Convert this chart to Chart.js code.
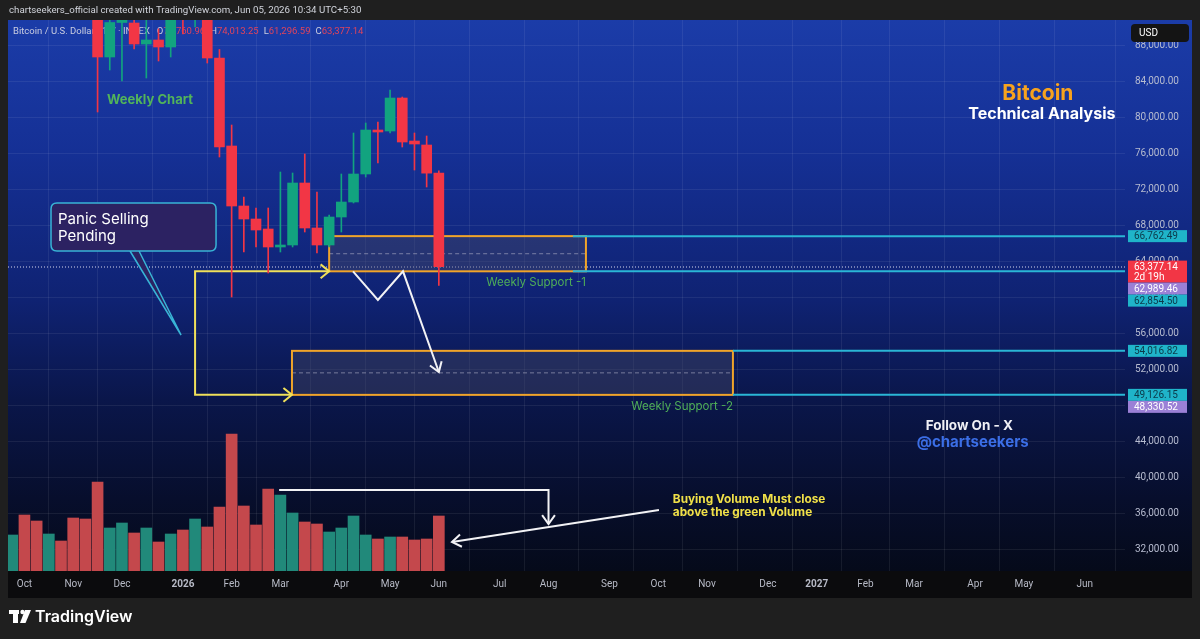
<!DOCTYPE html>
<html><head><meta charset="utf-8">
<script src="https://cdn.jsdelivr.net/npm/chart.js@4.4.1/dist/chart.umd.min.js"></script>
<style>html,body{margin:0;padding:0;background:#1f1f1f;overflow:hidden}</style>
</head><body>
<canvas id="c" width="1200" height="639"></canvas>
<script>
// ---------- DATA ----------
// weekly bars, week index 0 = week of Sep 29 2025 ... 35 = week of Jun 1 2026
const weeks   = [0,1,2,3,4,5,6,7,8,9,10,11,12,13,14,15,16,17,18,19,20,21,22,23,24,25,26,27,28,29,30,31,32,33,34,35];
const opens   = [112200,123500,115200,108600,114500,110500,104700,94300,86667,90500,90444,88111,88556,87778,91300,90900,95100,86556,76778,70111,68667,67556,65556,65778,72667,67667,65778,68889,70556,73667,78556,78444,82111,77333,76889,73760.96];
const highs   = [125500,126200,115900,114800,116400,110700,107500,96600,93100,94200,92700,90800,89800,91500,94800,97900,95500,87500,79111,71111,69889,69889,73889,73778,75889,71667,69100,73667,78222,79333,79444,83000,82222,78222,77889,74013.25];
const lows    = [111900,102000,103500,106700,106300,98900,93900,80556,85222,84000,87556,84333,86222,86667,89222,90000,86000,75556,60000,65000,65556,62667,65000,65556,67222,64889,65556,67222,70444,73333,74889,78222,76667,74111,72222,61296.59];
const closes  = [123500,115200,108600,114500,110500,104700,94300,86667,90500,91200,88111,88556,87778,91300,90900,95100,86556,76667,70111,68667,67444,65556,65778,72667,67667,65778,68889,70556,73667,78556,78333,82111,77222,77000,73760.96,63377.14];
const volumes = [36,56,50,37,30,53,52,89,43,48,38,43,29,37,41,52,44,64,137,65,46,82,76,58,49,47,39,43,55,36,32,34,34,31,32,55];

// time axis ticks (week index) and labels
const tickWeeks  = [1,5,9,14,18,22,27,31,35,40,44,49,53,57,62,66,70,74,79,83,88];
const tickLabels = ['Oct','Nov','Dec','2026','Feb','Mar','Apr','May','Jun','Jul','Aug','Sep','Oct','Nov','Dec','2027','Feb','Mar','Apr','May','Jun'];
const priceTicks = [32000,36000,40000,44000,48000,52000,56000,60000,64000,68000,72000,76000,80000,84000,88000];

// annotation levels
const zone1 = {fromWeek: 26.0, toWeek: 47.07, top: 66762.49, bottom: 62854.50};
const zone2 = {fromWeek: 22.95, toWeek: 59.13, top: 54016.82, bottom: 49126.15};
const levelPrices = [66762.49, 62854.50, 54016.82, 49126.15];
const levelFromWeeks = [46.0, 46.0, 59.13, 59.13];
const bracketWeek = 15.0;
const zigzagWeeks  = [27.96, 30.0, 32.06, 35.0];
const zigzagPrices = [62854.5, 59667, 62854.5, 51667];
const volLineWeeks = [21.9, 44.0, 44.0];
const volLineVals  = [81, 81, 47];
const volArrowWeeks = [53.06, 36.08];
const volArrowVals  = [61, 29];
const calloutWeeks  = [3.18, 16.72];
const calloutPrices = [70444, 65111];
const calloutBaseWeeks = [9.66, 10.4];
const calloutTip = [13.85, 55778];

const tagPrices = [66762.49, 63377.14, 62989.46, 62854.50, 54016.82, 49126.15, 48330.52];
const tagKinds  = ['teal','last','purple','teal','teal','teal','purple'];

// ---------- STYLE ----------
const FONT = 'Inter, "Noto Sans", "DejaVu Sans", sans-serif';
const SMALL = 'Roboto, "Noto Sans", sans-serif';
const RED = '#f23645', GREEN = '#12a37f';
const VRED = '#c4484c', VGREEN = '#21897a';
Chart.defaults.font.family = SMALL;

const isUp = weeks.map((w,i)=> closes[i] >= opens[i]);
const fmt = v => v.toLocaleString('en-US',{minimumFractionDigits:2, maximumFractionDigits:2});

function arrowHead(ctx, x1, y1, x2, y2, len, ang){
  const a = Math.atan2(y2-y1, x2-x1);
  ctx.beginPath();
  ctx.moveTo(x2 - len*Math.cos(a-ang), y2 - len*Math.sin(a-ang));
  ctx.lineTo(x2, y2);
  ctx.lineTo(x2 - len*Math.cos(a+ang), y2 - len*Math.sin(a+ang));
  ctx.stroke();
}
function rrect(ctx, x, y, w, h, r){
  ctx.beginPath();
  ctx.moveTo(x+r, y); ctx.lineTo(x+w-r, y); ctx.quadraticCurveTo(x+w, y, x+w, y+r);
  ctx.lineTo(x+w, y+h-r); ctx.quadraticCurveTo(x+w, y+h, x+w-r, y+h);
  ctx.lineTo(x+r, y+h); ctx.quadraticCurveTo(x, y+h, x, y+h-r);
  ctx.lineTo(x, y+r); ctx.quadraticCurveTo(x, y, x+r, y); ctx.closePath();
}

const annot = {
  id: 'annot',
  beforeDraw(chart){
    const {ctx, chartArea: a} = chart;
    const right = chart.scales.y.right, axBottom = chart.scales.x.bottom;
    ctx.save();
    ctx.fillStyle = '#1f1f1f'; ctx.fillRect(0,0,chart.width,chart.height);
    const g = ctx.createLinearGradient(0, a.top, 0, a.bottom);
    g.addColorStop(0, '#1b3ca8');
    g.addColorStop(0.24, '#153095');
    g.addColorStop(0.51, '#0f2272');
    g.addColorStop(0.69, '#0a164a');
    g.addColorStop(0.87, '#070e2c');
    g.addColorStop(1, '#050a1a');
    ctx.fillStyle = g; ctx.fillRect(a.left, a.top, right - a.left, a.bottom - a.top);
    ctx.fillStyle = '#0b0b0d'; ctx.fillRect(a.left, a.bottom, right - a.left, axBottom - a.bottom);
    // header
    ctx.fillStyle = '#d1d4dc'; ctx.font = '9.7px ' + SMALL; ctx.textBaseline = 'middle';
    ctx.fillText('chartseekers_official created with TradingView.com, Jun 05, 2026 10:34 UTC+5:30', 9, 11);
    // TradingView logo
    ctx.fillStyle = '#ffffff';
    ctx.fillRect(9, 610, 10, 4); ctx.fillRect(13, 610, 5, 13);
    ctx.beginPath(); ctx.arc(22.5, 612, 2.2, 0, Math.PI*2); ctx.fill();
    ctx.beginPath(); ctx.moveTo(25, 610); ctx.lineTo(31, 610); ctx.lineTo(25.5, 623); ctx.lineTo(20, 623); ctx.closePath(); ctx.fill();
    ctx.font = '600 16px ' + FONT; ctx.textBaseline = 'middle';
    ctx.fillText('TradingView', 35, 617);
    ctx.restore();
  },
  beforeDatasetsDraw(chart){
    const {ctx, chartArea: a, scales} = chart;
    const X = w => scales.x.getPixelForValue(w);
    const Y = p => scales.y.getPixelForValue(p);
    const V = v => scales.yv.getPixelForValue(v);
    ctx.save();
    ctx.beginPath(); ctx.rect(a.left, a.top, a.right-a.left, a.bottom-a.top); ctx.clip();

    // legend line
    ctx.font = '9.5px ' + SMALL; ctx.textBaseline = 'middle';
    let lx = 13; const ly = 32;
    const parts = [['Bitcoin / U.S. Dollar · 1W · INDEX', '#c9cce0', 7],
      ['O','#c9cce0',0],[fmt(opens[35]),'#e0445c',5],
      ['H','#c9cce0',0],[fmt(highs[35]),'#e0445c',5],
      ['L','#c9cce0',0],[fmt(lows[35]),'#e0445c',5],
      ['C','#c9cce0',0],[fmt(closes[35]),'#e0445c',0]];
    parts.forEach(([t,c,gap])=>{ ctx.fillStyle=c; ctx.fillText(t, lx, ly); lx += ctx.measureText(t).width + gap; });

    // last price dotted line
    ctx.strokeStyle = 'rgba(215,215,235,0.5)'; ctx.lineWidth = 2; ctx.setLineDash([1,2]);
    ctx.beginPath(); ctx.moveTo(a.left, Math.round(Y(closes[35]))); ctx.lineTo(a.right, Math.round(Y(closes[35]))); ctx.stroke();
    ctx.setLineDash([]);

    // zones
    [zone1, zone2].forEach(z=>{
      const x1 = X(z.fromWeek), x2 = X(z.toWeek), y1 = Y(z.top), y2 = Y(z.bottom);
      ctx.fillStyle = 'rgba(70,72,100,0.42)';
      ctx.fillRect(x1, y1, x2-x1, y2-y1);
      ctx.strokeStyle = 'rgba(190,190,210,0.55)'; ctx.lineWidth = 1; ctx.setLineDash([4,3]);
      const ym = Y((z.top+z.bottom)/2);
      ctx.beginPath(); ctx.moveTo(x1, ym); ctx.lineTo(x2, ym); ctx.stroke(); ctx.setLineDash([]);
      ctx.strokeStyle = '#f0a42a'; ctx.lineWidth = 2;
      ctx.strokeRect(x1, y1, x2-x1, y2-y1);
    });
    // cyan level lines
    ctx.strokeStyle = '#2ab6d6'; ctx.lineWidth = 2;
    levelPrices.forEach((p,i)=>{
      ctx.beginPath(); ctx.moveTo(X(levelFromWeeks[i]), Y(p)); ctx.lineTo(a.right, Y(p)); ctx.stroke();
    });

    // yellow bracket
    ctx.strokeStyle = '#f0e05a'; ctx.lineWidth = 2;
    const bx = X(bracketWeek), byTop = Y(zone1.bottom), byBot = Y(zone2.bottom);
    ctx.beginPath();
    ctx.moveTo(X(zone1.fromWeek), byTop); ctx.lineTo(bx, byTop); ctx.lineTo(bx, byBot); ctx.lineTo(X(zone2.fromWeek), byBot);
    ctx.stroke();
    arrowHead(ctx, bx, byTop, X(zone1.fromWeek), byTop, 11, 0.68);
    arrowHead(ctx, bx, byBot, X(zone2.fromWeek), byBot, 11, 0.68);

    // white zigzag
    ctx.strokeStyle = '#f2f2f5'; ctx.lineWidth = 2;
    ctx.beginPath();
    zigzagWeeks.forEach((w,i)=>{ const px=X(w), py=Y(zigzagPrices[i]); i?ctx.lineTo(px,py):ctx.moveTo(px,py); });
    ctx.stroke();
    arrowHead(ctx, X(zigzagWeeks[2]), Y(zigzagPrices[2]), X(zigzagWeeks[3]), Y(zigzagPrices[3]), 11, 0.6);

    // callout
    const cx1 = X(calloutWeeks[0]), cx2 = X(calloutWeeks[1]), cy1 = Y(calloutPrices[0]), cy2 = Y(calloutPrices[1]);
    ctx.fillStyle = '#2c2262';
    ctx.beginPath(); ctx.moveTo(X(calloutBaseWeeks[0]), cy2-1); ctx.lineTo(X(calloutTip[0]), Y(calloutTip[1])); ctx.lineTo(X(calloutBaseWeeks[1]), cy2-1); ctx.closePath(); ctx.fill();
    ctx.strokeStyle = '#38b4d6'; ctx.lineWidth = 1.5;
    ctx.beginPath(); ctx.moveTo(X(calloutBaseWeeks[0]), cy2); ctx.lineTo(X(calloutTip[0]), Y(calloutTip[1])); ctx.lineTo(X(calloutBaseWeeks[1]), cy2); ctx.stroke();
    rrect(ctx, cx1, cy1, cx2-cx1, cy2-cy1, 6);
    ctx.fillStyle = '#2c2262'; ctx.fill(); ctx.stroke();
    ctx.fillStyle = '#ffffff'; ctx.font = '15px ' + FONT; ctx.textBaseline = 'middle'; ctx.textAlign = 'left';
    ctx.fillText('Panic Selling', cx1 + 7, cy1 + 16);
    ctx.fillText('Pending', cx1 + 7, cy1 + 33);

    // texts
    ctx.textBaseline = 'middle';
    ctx.fillStyle = '#52b45a'; ctx.font = 'bold 13px ' + FONT; ctx.textAlign = 'center';
    ctx.fillText('Weekly Chart', X(11.3), Y(81889));
    ctx.font = '11.5px ' + FONT; ctx.fillStyle = '#4fae58'; ctx.textAlign = 'right';
    ctx.fillText('Weekly Support -1', X(zone1.toWeek), Y(61556));
    ctx.fillText('Weekly Support -2', X(zone2.toWeek), Y(47778));
    ctx.textAlign = 'center';
    ctx.fillStyle = '#f7a21e'; ctx.font = 'bold 21px ' + FONT;
    ctx.fillText('Bitcoin', X(84.15), Y(82556));
    ctx.fillStyle = '#ffffff'; ctx.font = 'bold 16px ' + FONT;
    ctx.fillText('Technical Analysis', X(84.48), Y(80333));
    ctx.fillStyle = '#f0f0f5'; ctx.font = 'bold 13.5px ' + FONT;
    ctx.fillText('Follow On - X', X(78.53), Y(45667));
    ctx.fillStyle = '#3b6ee6'; ctx.font = 'bold 15px ' + FONT;
    ctx.fillText('@chartseekers', X(78.8), Y(43889));

    // volume annotation arrows
    ctx.strokeStyle = '#f2f2f5'; ctx.lineWidth = 2;
    ctx.beginPath();
    volLineWeeks.forEach((w,i)=>{ const px=X(w), py=V(volLineVals[i]); i?ctx.lineTo(px,py):ctx.moveTo(px,py); });
    ctx.stroke();
    arrowHead(ctx, X(volLineWeeks[1]), V(volLineVals[1]), X(volLineWeeks[2]), V(volLineVals[2]), 11, 0.62);
    ctx.beginPath(); ctx.moveTo(X(volArrowWeeks[0]), V(volArrowVals[0])); ctx.lineTo(X(volArrowWeeks[1]), V(volArrowVals[1])); ctx.stroke();
    arrowHead(ctx, X(volArrowWeeks[0]), V(volArrowVals[0]), X(volArrowWeeks[1]), V(volArrowVals[1]), 11, 0.6);
    ctx.fillStyle = '#f0e048'; ctx.font = 'bold 11.8px ' + FONT; ctx.textAlign = 'left';
    ctx.fillText('Buying Volume Must close', X(54.2), V(72));
    ctx.fillText('above the green Volume', X(54.2), V(59));
    ctx.restore();
  },
  afterDraw(chart){
    const {ctx, scales} = chart;
    const Y = p => scales.y.getPixelForValue(p);
    const x0 = scales.y.left + 3, w = 59;
    ctx.save();
    ctx.font = '10px ' + SMALL; ctx.textBaseline = 'middle'; ctx.textAlign = 'left';
    let prevBottom = -1e9;
    tagPrices.forEach((p,i)=>{
      const kind = tagKinds[i];
      const h = kind === 'last' ? 22 : 12;
      let top = Y(p) - 6; if (top < prevBottom) top = prevBottom;
      prevBottom = top + h;
      const bg = kind==='teal' ? '#1fb4c9' : kind==='purple' ? '#9b80d6' : RED;
      const fg = kind==='teal' ? '#0c3a4a' : '#ffffff';
      ctx.fillStyle = bg; ctx.fillRect(x0, top, w, h);
      ctx.fillStyle = fg;
      ctx.fillText(fmt(p), x0 + 6, top + 6.5);
      if (kind === 'last') ctx.fillText('2d 19h', x0 + 6, top + 17);
    });
    // USD box
    ctx.fillStyle = '#141414'; rrect(ctx, 1131, 24, 58, 18, 4); ctx.fill();
    ctx.fillStyle = '#ffffff'; ctx.font = '10px ' + SMALL; ctx.fillText('USD', 1139, 33);
    ctx.restore();
  }
};

const GRID = 'rgba(255,255,255,0.07)';
new Chart(document.getElementById('c'), {
  type: 'bar',
  data: {
    datasets: [
      { label: 'Volume', yAxisID: 'yv', order: 3, grouped: false, barThickness: 11,
        data: weeks.map((w,i)=>({x: w, y: volumes[i]})),
        backgroundColor: weeks.map((w,i)=> isUp[i] ? VGREEN : VRED) },
      { label: 'Wicks', yAxisID: 'y', order: 2, grouped: false, barThickness: 1,
        data: weeks.map((w,i)=>({x: w, y: [lows[i], highs[i]]})),
        backgroundColor: weeks.map((w,i)=> isUp[i] ? GREEN : RED) },
      { label: 'Bodies', yAxisID: 'y', order: 1, grouped: false, barThickness: 10, minBarLength: 2,
        data: weeks.map((w,i)=>({x: w, y: [opens[i], closes[i]]})),
        backgroundColor: weeks.map((w,i)=> isUp[i] ? GREEN : RED) }
    ]
  },
  options: {
    responsive: false, animation: false, devicePixelRatio: 1,
    layout: { padding: { left: 8, top: 20, right: 8, bottom: 41 } },
    plugins: { legend: { display: false }, tooltip: { enabled: false } },
    scales: {
      x: { type: 'linear', min: -0.35, max: 91.3, offset: false,
        afterFit: s => { s.height = 27; },
        afterBuildTicks: s => { s.ticks = tickWeeks.map(v => ({value: v})); },
        grid: { color: GRID, drawTicks: false }, border: { display: false },
        ticks: { autoSkip: false, maxRotation: 0, padding: 7, color: '#b7bac6',
          font: c => ({ size: 10, family: SMALL, weight: (c.tick && /^20/.test(tickLabels[tickWeeks.indexOf(c.tick.value)])) ? 'bold' : 'normal' }),
          callback: v => tickLabels[tickWeeks.indexOf(v)] } },
      y: { type: 'linear', position: 'right', min: 29556, max: 90778,
        afterFit: s => { s.width = 67; },
        afterBuildTicks: s => { s.ticks = priceTicks.map(v => ({value: v})); },
        grid: { color: GRID, drawTicks: false }, border: { display: false },
        ticks: { padding: 10, color: '#b7bcd0', font: { size: 10, family: SMALL }, callback: v => fmt(v) } },
      yv: { type: 'linear', display: false, min: 0, max: 551 }
    }
  },
  plugins: [annot]
});
</script>
</body></html>
